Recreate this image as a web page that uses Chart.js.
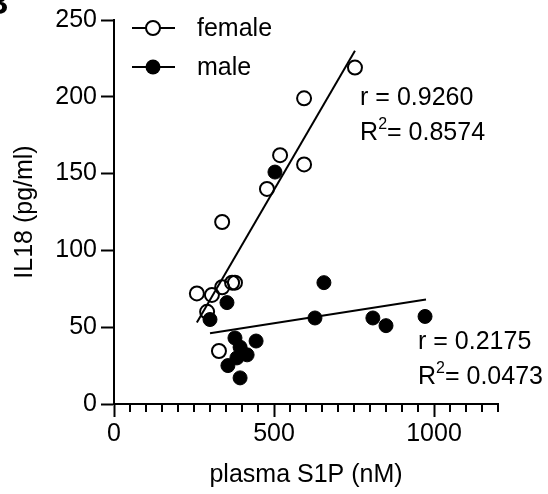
<!DOCTYPE html>
<html>
<head>
<meta charset="utf-8">
<script src="https://cdn.jsdelivr.net/npm/chart.js@4"></script>
<style>
  html, body { margin: 0; padding: 0; background: #fff; }
  #wrap { width: 548px; height: 494px; }
</style>
</head>
<body>
<div id="wrap"><canvas id="myChart" width="548" height="494"></canvas></div>
<script>
// plasma S1P (nM) vs IL18 (pg/ml)
const femaleX = [753, 594, 519, 594, 478, 338, 259, 306, 338, 369, 378, 291, 328];
const femaleY = [219, 199, 162, 156, 140, 118.5, 72, 71, 76, 79, 79, 60, 34.5];
const maleX = [503, 353, 300, 378, 444, 394, 416, 384, 356, 394, 656, 628, 809, 850, 972];
const maleY = [151, 66, 55, 43, 41, 37, 32, 30, 25, 17, 79, 56, 56, 51, 57];

// regression line ends
const femaleFitX = [259, 753];
const femaleFitY = [53, 230];
const maleFitX = [300, 975];
const maleFitY = [46, 68];

const xTicks = [0, 500, 1000];
const femaleStats = ['r = 0.9260', '0.8574'];
const maleStats = ['r = 0.2175', '0.0473'];

const FONT = "'Liberation Sans', Arial, sans-serif";

function toPoints(xs, ys) {
    return xs.map((x, i) => ({x: x, y: ys[i]}));
}

// legend, stats text, minor x ticks, panel letter
const extras = {
    id: 'extras',
    afterDraw(chart) {
        const c = chart.ctx;
        const xs = chart.scales.x;
        const ys = chart.scales.y;
        c.save();
        c.strokeStyle = '#000';
        c.fillStyle = '#000';
        c.lineWidth = 2;

        // minor ticks every 50
        const base = ys.getPixelForValue(0);
        for (let v = 50; v <= 1200; v += 50) {
            if (v % 500 === 0) continue;
            const px = xs.getPixelForValue(v);
            c.beginPath();
            c.moveTo(px, base);
            c.lineTo(px, base + 8);
            c.stroke();
        }

        // legend
        const items = [
            {label: 'female', filled: false, y: 28},
            {label: 'male', filled: true, y: 67}
        ];
        c.font = '25px ' + FONT;
        c.textBaseline = 'middle';
        items.forEach(it => {
            c.beginPath();
            c.moveTo(132, it.y);
            c.lineTo(175, it.y);
            c.stroke();
            c.beginPath();
            c.arc(153, it.y, it.filled ? 7.5 : 7, 0, Math.PI * 2);
            if (it.filled) {
                c.fill();
            } else {
                c.fillStyle = '#fff';
                c.fill();
                c.fillStyle = '#000';
                c.stroke();
            }
            c.fillText(it.label, 197, it.y + 1);
        });

        // stats
        function stats(lines, xv, yv) {
            const x = xs.getPixelForValue(xv);
            const y = ys.getPixelForValue(yv);
            c.font = '25px ' + FONT;
            c.textBaseline = 'middle';
            c.fillText(lines[0], x, y);
            const y2 = y + 35;
            c.fillText('R', x, y2);
            let w = c.measureText('R').width;
            c.font = '16px ' + FONT;
            c.fillText('2', x + w, y2 - 9);
            w += c.measureText('2').width;
            c.font = '25px ' + FONT;
            c.fillText('= ' + lines[1], x + w, y2);
        }
        stats(femaleStats, 769, 199);
        stats(maleStats, 950, 40);

        // panel letter, cut off at the edge
        c.font = 'bold 34px ' + FONT;
        c.textBaseline = 'alphabetic';
        c.fillText('B', -16, 14);
        c.restore();
    }
};

const ctx = document.getElementById('myChart').getContext('2d');
const myChart = new Chart(ctx, {
    type: 'scatter',
    data: {
        datasets: [
            {
                label: 'female fit',
                type: 'line',
                data: toPoints(femaleFitX, femaleFitY),
                borderColor: '#000',
                borderWidth: 2,
                pointRadius: 0,
                fill: false,
                order: 0
            },
            {
                label: 'male fit',
                type: 'line',
                data: toPoints(maleFitX, maleFitY),
                borderColor: '#000',
                borderWidth: 2,
                pointRadius: 0,
                fill: false,
                order: 0
            },
            {
                label: 'male',
                data: toPoints(maleX, maleY),
                backgroundColor: '#000',
                borderColor: '#000',
                borderWidth: 1,
                pointRadius: 7,
                order: 1
            },
            {
                label: 'female',
                data: toPoints(femaleX, femaleY),
                backgroundColor: 'rgba(255,255,255,0)',
                borderColor: '#000',
                borderWidth: 2,
                pointRadius: 7,
                order: 2
            }
        ]
    },
    options: {
        responsive: false,
        animation: false,
        layout: {padding: {top: 20, right: 50, left: 0, bottom: 0}},
        plugins: {
            legend: {display: false},
            tooltip: {enabled: false}
        },
        scales: {
            x: {
                type: 'linear',
                min: 0,
                max: 1200,
                afterFit: s => { s.height = 90; },
                afterBuildTicks: s => { s.ticks = xTicks.map(v => ({value: v})); },
                border: {display: true, color: '#000', width: 2},
                grid: {drawOnChartArea: false, drawTicks: true, tickLength: 13, tickColor: '#000', tickWidth: 2},
                ticks: {
                    color: '#000',
                    font: {family: FONT, size: 25},
                    padding: 2,
                    maxRotation: 0,
                    callback: v => String(v)
                },
                title: {display: true, text: 'plasma S1P (nM)', color: '#000', font: {family: FONT, size: 25}, padding: {top: 0, bottom: 4}}
            },
            y: {
                type: 'linear',
                min: 0,
                max: 250,
                afterFit: s => { s.width = 114; },
                border: {display: true, color: '#000', width: 2},
                grid: {drawOnChartArea: false, drawTicks: true, tickLength: 13, tickColor: '#000', tickWidth: 2},
                ticks: {stepSize: 50, color: '#000', font: {family: FONT, size: 25}, padding: 4},
                title: {display: true, text: 'IL18 (pg/ml)', color: '#000', font: {family: FONT, size: 25}, padding: {top: 10, bottom: 0}}
            }
        }
    },
    plugins: [extras]
});
</script>
</body>
</html>
